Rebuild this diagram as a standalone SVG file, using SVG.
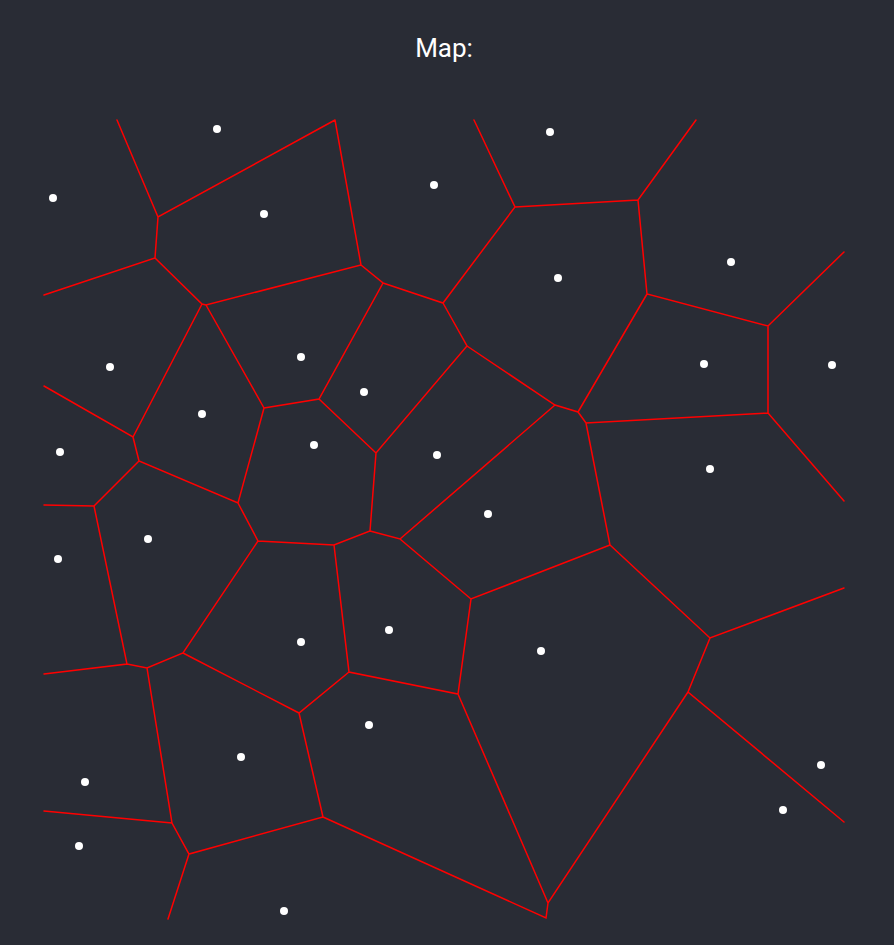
<svg xmlns="http://www.w3.org/2000/svg" width="894" height="945" viewBox="0 0 894 945">
<style>
.e{stroke:#ff0000;stroke-width:1.5;fill:none;stroke-linecap:round}
.s{fill:#ffffff}
.t{font-family:Roboto,"Liberation Sans",sans-serif;font-size:26px;fill:#ffffff}
</style>
<rect width="894" height="945" fill="#292c35"/>
<text class="t" x="444" y="57" text-anchor="middle">Map:</text>
<g id="edges" class="e">
<path d="M117,120L158,217L335,120M158,217L155,258L44,295M155,258L202,304L206,305L361,265L335,120M202,304L133,437L44,386M206,305L264,408L238,503L139,461L133,437M361,265L383,283L319,399L264,408M383,283L443,303L515,207L474,120M515,207L638,200L696,120M638,200L647,294L768,326L844,252M647,294L578,412M768,326L768,413L844,501M443,303L467,346L376,453L319,399M467,346L555,405L578,412L586,423L768,413M139,461L94,506L44,505M94,506L127,664L44,674M238,503L258,541L334,545L370,531L376,453M370,531L400,539L555,405M400,539L471,599L610,545L586,423M610,545L710,638L844,588M710,638L688,692L844,822M471,599L458,694L349,672L334,545M258,541L183,653L147,668L127,664M183,653L299,713L349,672M299,713L323,817L189,854L172,823L147,668M172,823L44,811M189,854L168,919M458,694L548,903L688,692M548,903L546,918L323,817"/>
</g>
<g id="sites" class="s">
<circle cx="217" cy="129" r="4"/>
<circle cx="53" cy="198" r="4"/>
<circle cx="264" cy="214" r="4"/>
<circle cx="110" cy="367" r="4"/>
<circle cx="301" cy="357" r="4"/>
<circle cx="550" cy="132" r="4"/>
<circle cx="434" cy="185" r="4"/>
<circle cx="558" cy="278" r="4"/>
<circle cx="364" cy="392" r="4"/>
<circle cx="731" cy="262" r="4"/>
<circle cx="704" cy="364" r="4"/>
<circle cx="832" cy="365" r="4"/>
<circle cx="202" cy="414" r="4"/>
<circle cx="60" cy="452" r="4"/>
<circle cx="148" cy="539" r="4"/>
<circle cx="58" cy="559" r="4"/>
<circle cx="301" cy="642" r="4"/>
<circle cx="314" cy="445" r="4"/>
<circle cx="437" cy="455" r="4"/>
<circle cx="488" cy="514" r="4"/>
<circle cx="389" cy="630" r="4"/>
<circle cx="541" cy="651" r="4"/>
<circle cx="710" cy="469" r="4"/>
<circle cx="241" cy="757" r="4"/>
<circle cx="85" cy="782" r="4"/>
<circle cx="79" cy="846" r="4"/>
<circle cx="284" cy="911" r="4"/>
<circle cx="369" cy="725" r="4"/>
<circle cx="821" cy="765" r="4"/>
<circle cx="783" cy="810" r="4"/>
</g>
</svg>
